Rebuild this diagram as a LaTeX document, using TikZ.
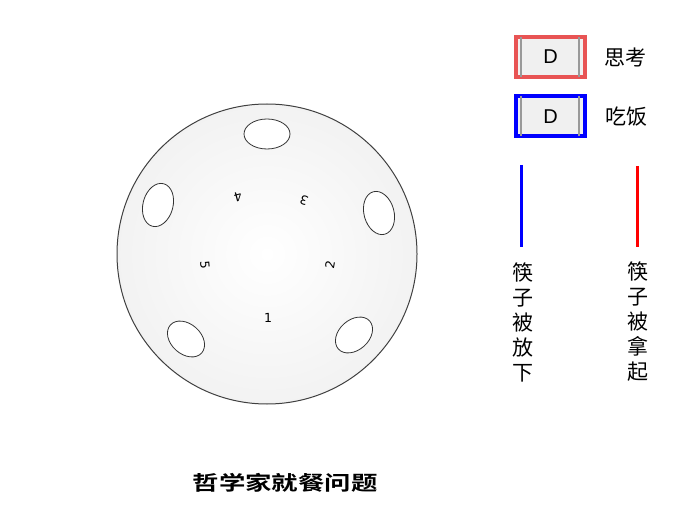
\documentclass[tikz,border=0pt]{standalone}
\usepackage{fontspec}
\usetikzlibrary{shapes.geometric}
\newfontfamily\cjk{Noto Sans CJK SC}[BoldFont={Noto Sans CJK SC Bold}]
\newfontfamily\latsans{Liberation Sans}
\newfontfamily\numfont{DejaVu Sans}
\definecolor{boxred}{HTML}{E85454}
\definecolor{btngray}{HTML}{F0F0F0}
\tikzset{
  plate/.style={ellipse, draw=black!80, line width=0.8pt, fill=white, inner sep=0pt},
  seatnum/.style={font=\numfont\fontsize{12.5}{12.5}\selectfont, inner sep=0pt},
  legendbox/.style={draw=#1, line width=4pt, fill=btngray, minimum width=69pt, minimum height=40pt, inner sep=0pt},
  legendtext/.style={font=\cjk\fontsize{21}{21}\selectfont, inner sep=0pt},
  stickline/.style={line width=3pt, draw=#1},
  vtext/.style={font=\cjk\fontsize{21}{25}\selectfont, align=center, inner sep=0pt}
}
\begin{document}
\begin{tikzpicture}[x=1pt,y=-1pt]
\useasboundingbox (0,0) rectangle (700,510);
% table
\node[circle, draw=black!75, line width=1pt, inner color=white, outer color=black!5, minimum size=300pt, inner sep=0pt] (table) at (267,254) {};
% plates
\node[plate, minimum width=46pt, minimum height=30pt] (p3) at (267,134) {};
\node[plate, minimum width=30pt, minimum height=44pt, rotate=-15] (p4) at (158,205) {};
\node[plate, minimum width=30pt, minimum height=44pt, rotate=15] (p2) at (379,213) {};
\node[plate, minimum width=42pt, minimum height=30pt, rotate=-42] (p5) at (186,339) {};
\node[plate, minimum width=42pt, minimum height=30pt, rotate=42] (p1) at (354,335) {};
% seat numbers
\node[seatnum] (n1) at (268,318) {1};
\node[seatnum, rotate=80] (n2) at (330,265) {2};
\node[seatnum, rotate=160] (n3) at (304,200) {3};
\node[seatnum, rotate=195] (n4) at (238,197) {4};
\node[seatnum, rotate=-85] (n5) at (205,265) {5};
% legend boxes
\node[legendbox=boxred] (think) at (550.5,57) {};
\draw[black!40, line width=1.2pt] ([xshift=7pt,yshift=-2pt]think.north west) -- ([xshift=7pt,yshift=2pt]think.south west);
\draw[black!40, line width=1.2pt] ([xshift=-8pt,yshift=-2pt]think.north east) -- ([xshift=-8pt,yshift=2pt]think.south east);
\node[font=\latsans\fontsize{20}{20}\selectfont, inner sep=0pt] (dthink) at (think.center) {D};
\node[legendtext] (thinklbl) at (625,57) {思考};
\node[legendbox=blue] (eat) at (550.5,116.5) {};
\draw[black!40, line width=1.2pt] ([xshift=7pt,yshift=-2pt]eat.north west) -- ([xshift=7pt,yshift=2pt]eat.south west);
\draw[black!40, line width=1.2pt] ([xshift=-8pt,yshift=-2pt]eat.north east) -- ([xshift=-8pt,yshift=2pt]eat.south east);
\node[font=\latsans\fontsize{20}{20}\selectfont, inner sep=0pt] (deat) at (eat.center) {D};
\node[legendtext] (eatlbl) at (626,117) {吃饭};
% chopstick legend lines
\coordinate (bt) at (521.5,165);
\coordinate (bb) at (521.5,247);
\coordinate (rt) at (637.5,166);
\coordinate (rb) at (637.5,247);
\draw[stickline=blue] (bt) -- (bb);
\draw[stickline=red] (rt) -- (rb);
\node[vtext] (down) at (523,322) {筷\\子\\被\\放\\下};
\node[vtext] (up) at (638,322) {筷\\子\\被\\拿\\起};
% title
\node[font=\cjk\bfseries\fontsize{20}{20}\selectfont, xscale=1.32, inner sep=0pt] (title) at (285,483) {哲学家就餐问题};
\end{tikzpicture}
\end{document}
